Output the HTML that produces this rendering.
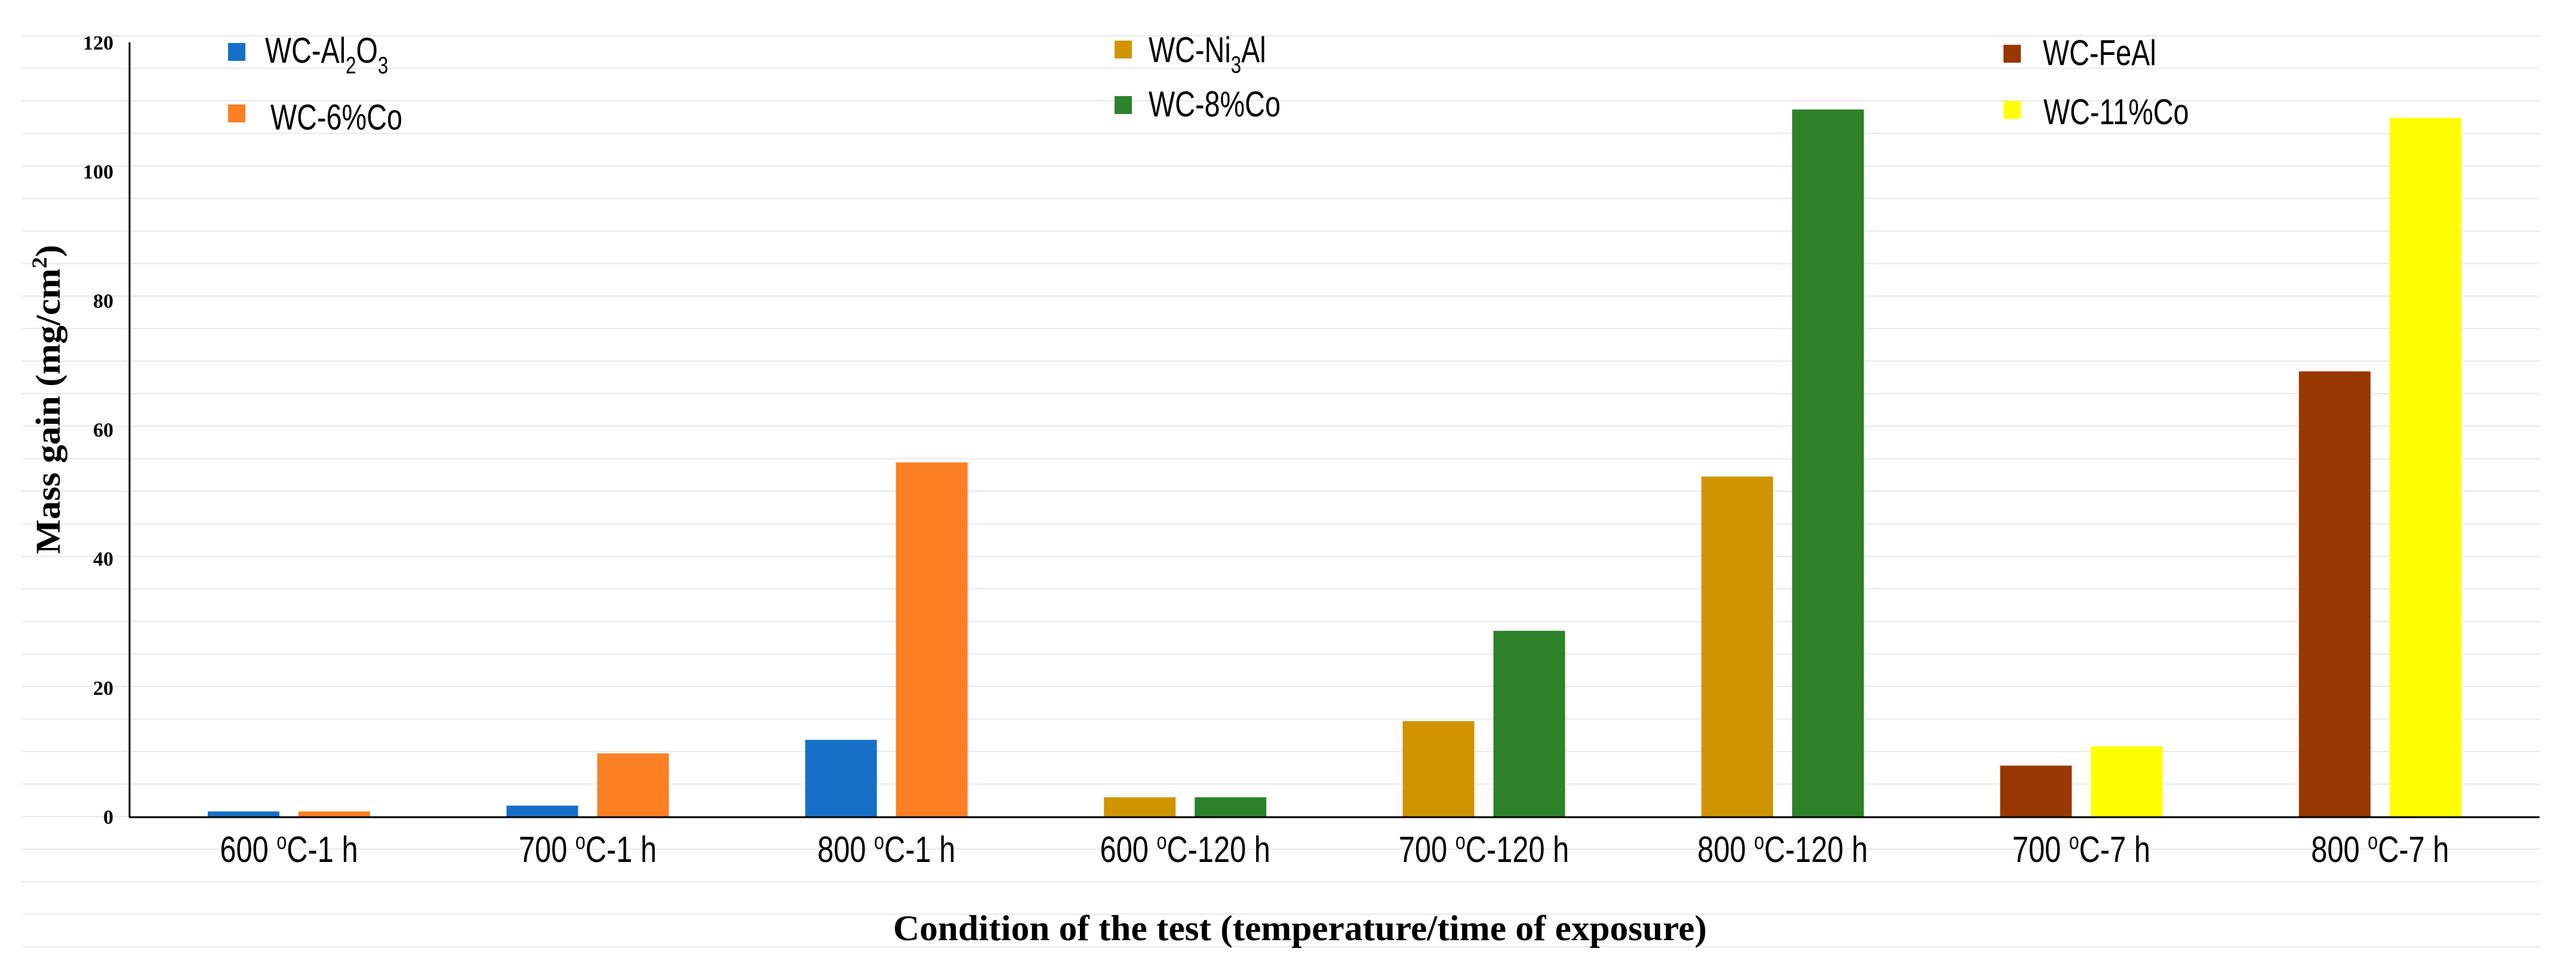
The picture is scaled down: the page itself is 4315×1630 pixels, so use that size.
<!DOCTYPE html>
<html><head><meta charset="utf-8">
<style>
html,body{margin:0;padding:0;background:#fff;}
svg{display:block;}
</style></head>
<body>
<svg id="chart" width="4315" height="1630" viewBox="0 0 4315 1630" xmlns="http://www.w3.org/2000/svg">
<g id="grid"></g>
<g id="bars"></g>
<g id="axes"></g>
<g id="legend"></g>
<text x="1496" y="1575" font-family="Liberation Serif, serif" font-weight="bold" font-size="60" textLength="1363" lengthAdjust="spacingAndGlyphs">Condition  of the test (temperature/time of exposure)</text>
<text transform="translate(100,669) rotate(-90)" text-anchor="middle" font-family="Liberation Serif, serif" font-weight="bold" font-size="58" textLength="518" lengthAdjust="spacingAndGlyphs">Mass gain (mg/cm<tspan font-size="36" dy="-22">2</tspan><tspan dy="22">)</tspan></text>
</svg>
<script>
const categories = ["600 oC-1 h","700 oC-1 h","800 oC-1 h","600 oC-120 h","700 oC-120 h","800 oC-120 h","700 oC-7 h","800 oC-7 h"];
const leftValues  = [0.8, 1.7, 11.9, 3.0, 14.8, 52.7, 7.9, 69.0];
const rightValues = [0.8, 9.8, 54.9, 3.0, 28.8, 109.6, 10.9, 108.3];
const leftSeries  = ["WC-Al2O3","WC-Al2O3","WC-Al2O3","WC-Ni3Al","WC-Ni3Al","WC-Ni3Al","WC-FeAl","WC-FeAl"];
const rightSeries = ["WC-6%Co","WC-6%Co","WC-6%Co","WC-8%Co","WC-8%Co","WC-8%Co","WC-11%Co","WC-11%Co"];
const yTicks = [0,20,40,60,80,100,120];

const NS="http://www.w3.org/2000/svg";
const colors={"WC-Al2O3":"#1670c8","WC-6%Co":"#fd7f23","WC-Ni3Al":"#cf9400","WC-8%Co":"#2e8229","WC-FeAl":"#993800","WC-11%Co":"#ffff00"};
const Y0=1368, PPU=(1368-71)/120;
function y(v){return Y0-v*PPU;}
function xc(i){return 484+i*500.4;}
function mk(tag,attrs,parent){const e=document.createElementNS(NS,tag);for(const k in attrs)e.setAttribute(k,attrs[k]);parent.appendChild(e);return e;}

const grid=document.getElementById('grid');
for(let k=-4;k<=24;k++){
  const gy=Y0-k*54.5;
  const l=mk('line',{x1:36,x2:4254,y1:gy,y2:gy,stroke:'#e8e8e8','stroke-width':2},grid);
  
  
}

const bars=document.getElementById('bars');
categories.forEach((c,i)=>{
  const cx=xc(i);
  const b1=mk('rect',{x:cx-136,y:y(leftValues[i]),width:120,height:leftValues[i]*PPU,fill:colors[leftSeries[i]]},bars);
  
  
  const b2=mk('rect',{x:cx+16,y:y(rightValues[i]),width:120,height:rightValues[i]*PPU,fill:colors[rightSeries[i]]},bars);
  
  
  const parts=c.split(' oC');
  const t=mk('text',{transform:'translate('+cx+',1444) scale(0.8,1)','text-anchor':'middle','font-family':'Liberation Sans, sans-serif','font-size':61},bars);
  
  
  t.appendChild(document.createTextNode(parts[0]+' '));
  const s=mk('tspan',{'font-size':38,dy:-22},t); s.textContent='o';
  const r=mk('tspan',{dy:22},t); r.textContent='C'+parts[1];
});

const axes=document.getElementById('axes');
const ya=mk('line',{x1:217,x2:217,y1:71,y2:Y0+1,stroke:'#000','stroke-width':3},axes);


const xa=mk('line',{x1:216,x2:4254,y1:Y0+1,y2:Y0+1,stroke:'#000','stroke-width':3},axes);


yTicks.forEach(v=>{
  const t=mk('text',{x:190,y:y(v)+12,'text-anchor':'end','font-family':'Liberation Serif, serif','font-weight':'bold','font-size':34},axes);
  
  
  t.textContent=v;
});

const legend=document.getElementById('legend');
const legItems=[
 {name:"WC-Al2O3",sx:382,sy:72,tx:444,ty:105,parts:[["WC-Al",0],["2",1],["O",0],["3",1]]},
 {name:"WC-6%Co",sx:382,sy:175,tx:453,ty:217,parts:[["WC-6%Co",0]]},
 {name:"WC-Ni3Al",sx:1867,sy:68,tx:1924,ty:104,parts:[["WC-Ni",0],["3",1],["Al",0]]},
 {name:"WC-8%Co",sx:1867,sy:161,tx:1924,ty:195,parts:[["WC-8%Co",0]]},
 {name:"WC-FeAl",sx:3356,sy:75,tx:3422,ty:109,parts:[["WC-FeAl",0]]},
 {name:"WC-11%Co",sx:3356,sy:169,tx:3423,ty:208,parts:[["WC-11%Co",0]]}
];
legItems.forEach(it=>{
  const sq=mk('rect',{x:it.sx,y:it.sy,width:29,height:30,fill:colors[it.name]},legend);
  
  
  const t=mk('text',{transform:'translate('+it.tx+','+it.ty+') scale(0.78,1)','font-family':'Liberation Sans, sans-serif','font-size':60},legend);
  
  
  let sub=false;
  it.parts.forEach(p=>{
    const ts=mk('tspan',{},t);
    if(p[1]&&!sub){ts.setAttribute('dy',18);ts.setAttribute('font-size',40);sub=true;}
    else if(!p[1]&&sub){ts.setAttribute('dy',-18);sub=false;}
    else if(p[1]){ts.setAttribute('font-size',40);}
    ts.textContent=p[0];
  });
});
</script>
</body></html>
